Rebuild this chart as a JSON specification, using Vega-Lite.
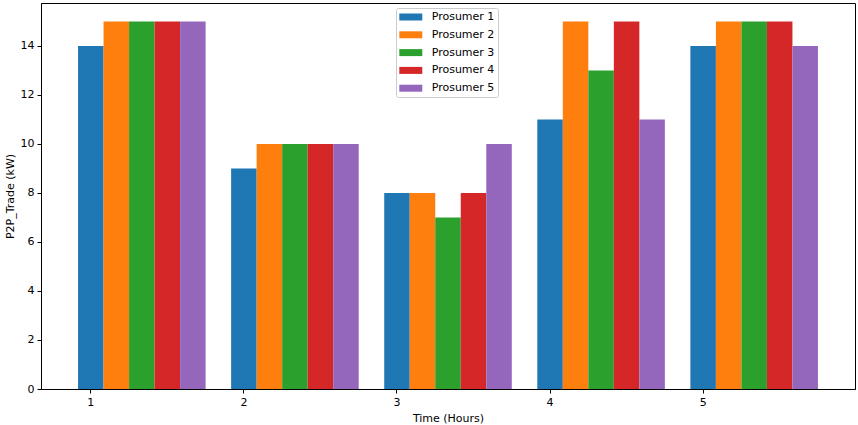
{
  "$schema": "https://vega.github.io/schema/vega-lite/v6.json",
  "autosize": {"type": "none"},
  "padding": {"left": 41, "top": 3, "right": 3, "bottom": 35},
  "width": 814,
  "height": 386,
  "background": "white",
  "config": {
    "font": "DejaVu Sans",
    "view": {"stroke": "black", "strokeWidth": 1},
    "axis": {
      "grid": false,
      "domainColor": "black",
      "tickColor": "black",
      "tickSize": 4,
      "labelPadding": 3,
      "labelFontSize": 11,
      "labelColor": "black",
      "titleFontSize": 11,
      "titleFontWeight": "normal",
      "titleColor": "black"
    }
  },
  "data": {
    "values": [
      {"Hour": 1, "Prosumer": "Prosumer 1", "P2P": 14},
      {"Hour": 1, "Prosumer": "Prosumer 2", "P2P": 15},
      {"Hour": 1, "Prosumer": "Prosumer 3", "P2P": 15},
      {"Hour": 1, "Prosumer": "Prosumer 4", "P2P": 15},
      {"Hour": 1, "Prosumer": "Prosumer 5", "P2P": 15},
      {"Hour": 2, "Prosumer": "Prosumer 1", "P2P": 9},
      {"Hour": 2, "Prosumer": "Prosumer 2", "P2P": 10},
      {"Hour": 2, "Prosumer": "Prosumer 3", "P2P": 10},
      {"Hour": 2, "Prosumer": "Prosumer 4", "P2P": 10},
      {"Hour": 2, "Prosumer": "Prosumer 5", "P2P": 10},
      {"Hour": 3, "Prosumer": "Prosumer 1", "P2P": 8},
      {"Hour": 3, "Prosumer": "Prosumer 2", "P2P": 8},
      {"Hour": 3, "Prosumer": "Prosumer 3", "P2P": 7},
      {"Hour": 3, "Prosumer": "Prosumer 4", "P2P": 8},
      {"Hour": 3, "Prosumer": "Prosumer 5", "P2P": 10},
      {"Hour": 4, "Prosumer": "Prosumer 1", "P2P": 11},
      {"Hour": 4, "Prosumer": "Prosumer 2", "P2P": 15},
      {"Hour": 4, "Prosumer": "Prosumer 3", "P2P": 13},
      {"Hour": 4, "Prosumer": "Prosumer 4", "P2P": 15},
      {"Hour": 4, "Prosumer": "Prosumer 5", "P2P": 11},
      {"Hour": 5, "Prosumer": "Prosumer 1", "P2P": 14},
      {"Hour": 5, "Prosumer": "Prosumer 2", "P2P": 15},
      {"Hour": 5, "Prosumer": "Prosumer 3", "P2P": 15},
      {"Hour": 5, "Prosumer": "Prosumer 4", "P2P": 15},
      {"Hour": 5, "Prosumer": "Prosumer 5", "P2P": 14}
    ]
  },
  "mark": {"type": "bar"},
  "encoding": {
    "x": {
      "field": "Hour",
      "type": "ordinal",
      "title": "Time (Hours)",
      "scale": {"paddingInner": 0.1667, "paddingOuter": 0.242},
      "axis": {"labelAngle": 0, "bandPosition": 0.1, "labelOffset": -51, "titlePadding": 5}
    },
    "xOffset": {
      "field": "Prosumer",
      "type": "nominal",
      "scale": {"paddingInner": 0, "paddingOuter": 0}
    },
    "y": {
      "field": "P2P",
      "type": "quantitative",
      "title": "P2P_Trade (kW)",
      "scale": {"domain": [0, 15.75], "nice": false},
      "axis": {"values": [0, 2, 4, 6, 8, 10, 12, 14], "titlePadding": 5}
    },
    "color": {
      "field": "Prosumer",
      "type": "nominal",
      "scale": {"range": ["#1f77b4", "#ff7f0e", "#2ca02c", "#d62728", "#9467bd"]},
      "legend": {
        "title": null,
        "orient": "none",
        "legendX": 355,
        "legendY": 5,
        "padding": 3.5,
        "rowPadding": 5.8,
        "symbolType": "M-2.09,-0.636H2.09V0.636H-2.09Z",
        "symbolSize": 121,
        "symbolStrokeWidth": 0,
        "symbolOpacity": 1,
        "symbolOffset": 5.8,
        "labelOffset": 15.4,
        "labelFontSize": 11,
        "labelColor": "black",
        "strokeColor": "#cccccc",
        "fillColor": "rgba(255,255,255,0.8)",
        "cornerRadius": 2
      }
    }
  }
}
